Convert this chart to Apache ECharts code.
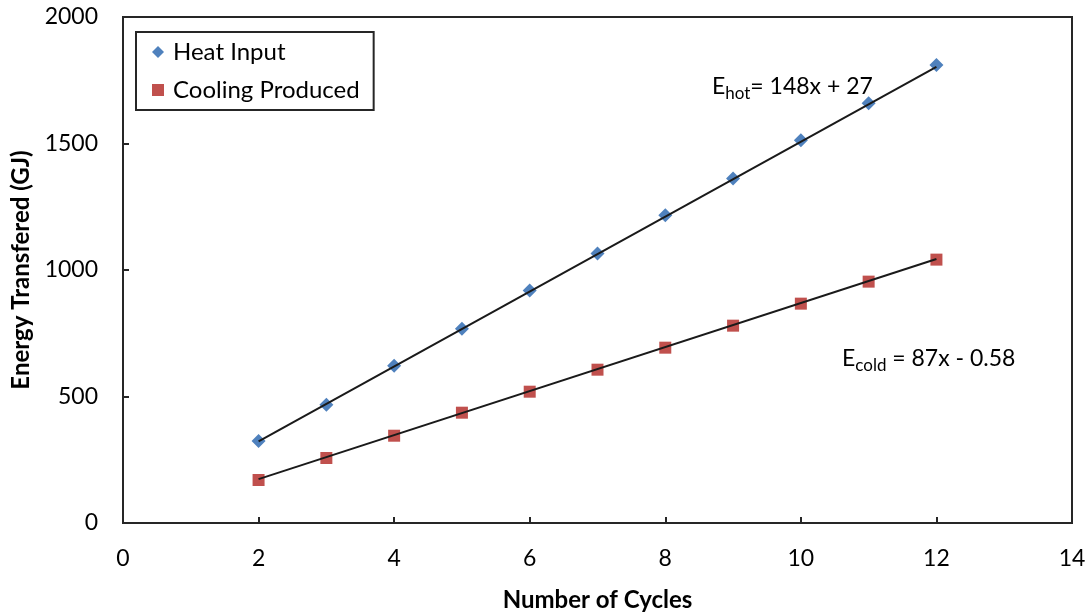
<!DOCTYPE html>
<html>
<head>
<meta charset="utf-8">
<script src="https://cdn.jsdelivr.net/npm/echarts@6/dist/echarts.min.js"></script>
<style>
  html, body { margin: 0; padding: 0; background: #fff; }
  #chart { width: 1089px; height: 613px; }
</style>
</head>
<body>
<div id="chart"></div>
<script>
// Energy transferred per number of cycles
const cycles = [2, 3, 4, 5, 6, 7, 8, 9, 10, 11, 12];
const heatInput = [324, 467, 622, 768, 919, 1065, 1216, 1362, 1513, 1659, 1810];
const coolingProduced = [170, 257, 345, 436, 519, 606, 693, 780, 867, 954, 1041];

// Linear trendline fits shown as equations
const hotFit = { slope: 148, intercept: 27 };
const coldFit = { slope: 87, intercept: -0.58 };

const xTicks = [0, 2, 4, 6, 8, 10, 12, 14];
const yTicks = [0, 500, 1000, 1500, 2000];

const FONT = 'Lato, "Liberation Sans", sans-serif';
const BLUE = '#4F81BD';
const RED = '#C0504D';

function pairs(xs, ys) { return xs.map((x, i) => [x, ys[i]]); }
function fitLine(fit, xs) {
  const a = xs[0], b = xs[xs.length - 1];
  return [[a, fit.slope * a + fit.intercept], [b, fit.slope * b + fit.intercept]];
}

const chart = echarts.init(document.getElementById('chart'), null, { renderer: 'canvas' });

const axisLineStyle = { color: '#262626', width: 2 };
const eqRich = {
  e: { fontFamily: FONT, fontSize: 23, fill: '#000' },
  s: { fontFamily: FONT, fontSize: 17, fill: '#000', verticalAlign: 'bottom', padding: [14, 0, 0, 0] }
};

chart.setOption({
  backgroundColor: '#fff',
  animation: false,
  grid: {
    left: 123, top: 17, right: 17, bottom: 90,
    containLabel: false, outerBoundsMode: 'none',
    show: true, borderColor: '#262626', borderWidth: 2
  },
  xAxis: {
    type: 'value', min: xTicks[0], max: xTicks[xTicks.length - 1], interval: 2,
    name: 'Number of Cycles', nameLocation: 'middle', nameGap: 65,
    nameTextStyle: { fontFamily: FONT, fontWeight: 'bold', fontSize: 24, color: '#000' },
    axisLine: { lineStyle: axisLineStyle },
    axisTick: { inside: true, length: 6, lineStyle: { color: '#262626', width: 2 } },
    axisLabel: { fontFamily: FONT, fontSize: 23, color: '#000', margin: 24 },
    splitLine: { show: false }
  },
  yAxis: {
    type: 'value', min: yTicks[0], max: yTicks[yTicks.length - 1], interval: 500,
    name: 'Energy Transfered (GJ)', nameLocation: 'middle', nameGap: 79, nameRotate: 90,
    nameTextStyle: { fontFamily: FONT, fontWeight: 'bold', fontSize: 24, color: '#000' },
    axisLine: { show: true, lineStyle: axisLineStyle },
    axisTick: { show: true, inside: true, length: 6, lineStyle: { color: '#262626', width: 2 } },
    axisLabel: { fontFamily: FONT, fontSize: 23, color: '#000', margin: 25, formatter: v => String(v) },
    splitLine: { show: false }
  },
  legend: {
    orient: 'vertical', left: 136, top: 32,
    padding: [8, 14, 8, 16], itemGap: 14,
    borderColor: '#262626', borderWidth: 2, borderRadius: 0,
    itemWidth: 12, itemHeight: 12,
    textStyle: { fontFamily: FONT, fontSize: 24, color: '#000', padding: [0, 0, 0, 4] },
    data: [
      { name: 'Heat Input', icon: 'diamond' },
      { name: 'Cooling Produced', icon: 'rect' }
    ]
  },
  graphic: [
    { type: 'text', left: 712, top: 75, style: { text: '{e|E}{s|hot}{e|= 148x + 27}', rich: eqRich } },
    { type: 'text', left: 842, top: 347, style: { text: '{e|E}{s|cold}{e| = 87x - 0.58}', rich: eqRich } }
  ],
  series: [
    {
      name: 'Heat Input', type: 'scatter', symbol: 'diamond', symbolSize: 14,
      itemStyle: { color: BLUE, opacity: 1 }, data: pairs(cycles, heatInput), z: 2
    },
    {
      name: 'Cooling Produced', type: 'scatter', symbol: 'rect', symbolSize: 12,
      itemStyle: { color: RED, opacity: 1 }, data: pairs(cycles, coolingProduced), z: 2
    },
    {
      name: 'hotTrend', type: 'line', showSymbol: false, symbol: 'none',
      lineStyle: { color: '#1a1a1a', width: 2 }, data: fitLine(hotFit, cycles), z: 3, silent: true
    },
    {
      name: 'coldTrend', type: 'line', showSymbol: false, symbol: 'none',
      lineStyle: { color: '#1a1a1a', width: 2 }, data: fitLine(coldFit, cycles), z: 3, silent: true
    }
  ]
});
</script>
</body>
</html>
